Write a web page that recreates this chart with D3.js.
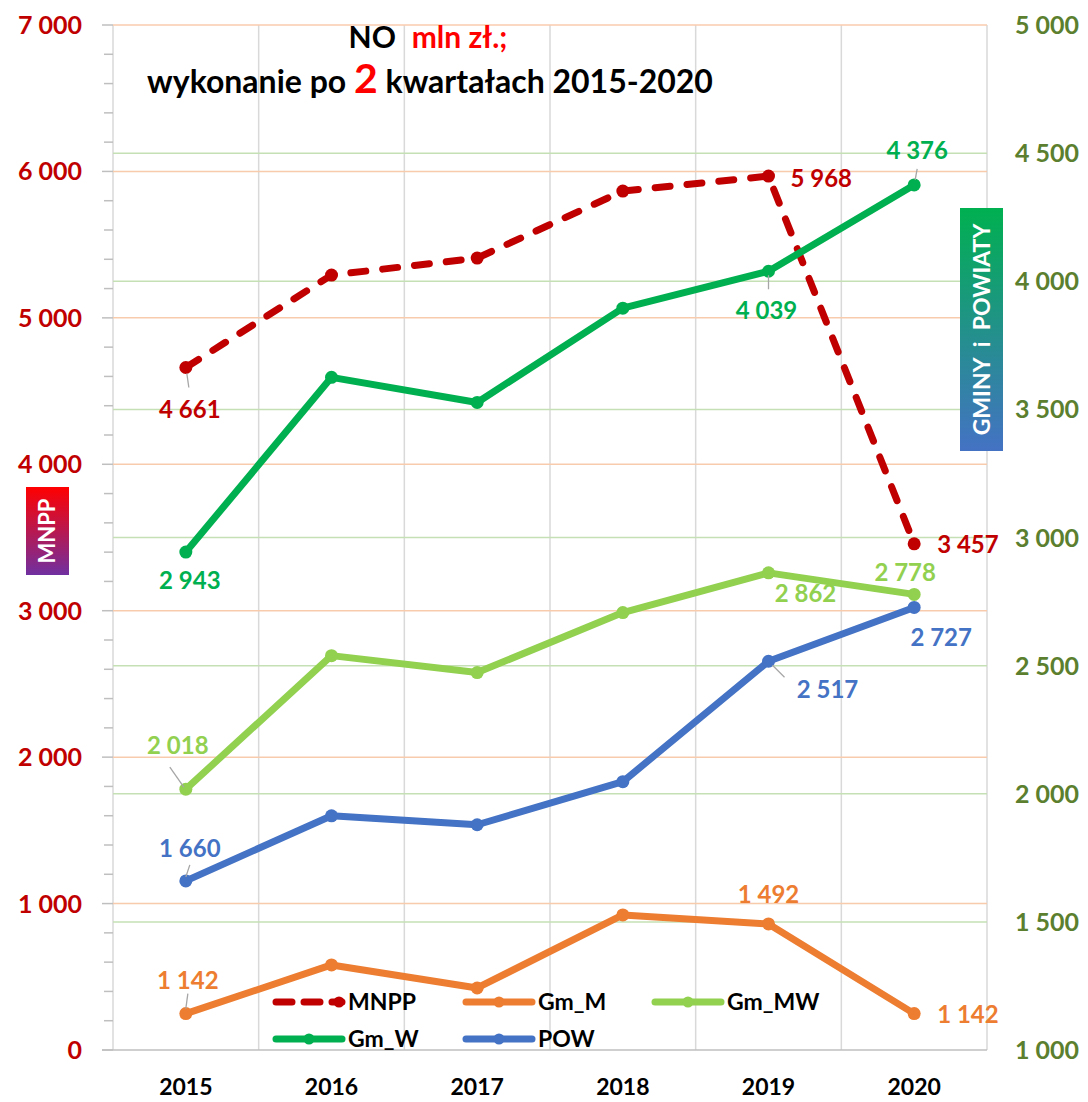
<!DOCTYPE html>
<html>
<head>
<meta charset="utf-8">
<script src="https://cdn.jsdelivr.net/npm/d3@7"></script>
<style>
  body { margin: 0; background: #fff; }
  svg { display: block; font-family: Lato, "Open Sans", sans-serif; }
</style>
</head>
<body>
<svg id="chart" width="1088" height="1102"></svg>
<script>
// --- data ---
const years = ['2015', '2016', '2017', '2018', '2019', '2020'];
const mnpp = [4661, 5292, 5408, 5866, 5968, 3457];   // left axis
const gmM  = [1142, 1332, 1242, 1527, 1492, 1142];   // right axis
const gmMW = [2018, 2539, 2473, 2707, 2862, 2778];
const gmW  = [2943, 3625, 3527, 3895, 4039, 4376];
const pow  = [1660, 1914, 1879, 2047, 2517, 2727];
const leftTicks  = [0, 1000, 2000, 3000, 4000, 5000, 6000, 7000];
const rightTicks = [1000, 1500, 2000, 2500, 3000, 3500, 4000, 4500, 5000];
const labelled = [0, 4, 5]; // which years carry a value label

const series = [
  { name: 'MNPP',  values: mnpp, axis: 'left',  color: '#C00000', dash: '15,17' },
  { name: 'Gm_M',  values: gmM,  axis: 'right', color: '#ED7D31' },
  { name: 'Gm_MW', values: gmMW, axis: 'right', color: '#92D050' },
  { name: 'Gm_W',  values: gmW,  axis: 'right', color: '#00B050' },
  { name: 'POW',   values: pow,  axis: 'right', color: '#4472C4' }
];

// label placement per series/year: [dx, dy, anchor, leader line]
const labelPlace = {
  MNPP:  { 0: [4, 42, 'middle', [1, 6, 3, 20]], 4: [22, 2, 'start'], 5: [23, 1, 'start'] },
  Gm_M:  { 0: [2, -33, 'middle', [0, -5, 2, -20]], 4: [0, -30, 'middle'], 5: [23, 1, 'start'] },
  Gm_MW: { 0: [-8, -44, 'middle', [-2, -2, -16, -22]], 4: [37, 20, 'middle'], 5: [-9, -22, 'middle'] },
  Gm_W:  { 0: [4, 28, 'middle'], 4: [-2, 39, 'middle', [0, 4, 0, 18]], 5: [3, -35, 'middle', [1, -5, 3, -16]] },
  POW:   { 0: [4, -33, 'middle', [0, -4, 4, -16]], 4: [59, 28, 'middle', [4, 4, 16, 16]], 5: [27, 30, 'middle'] }
};

const fmt = v => d3.format(',')(v).replace(/,/g, ' ');

const svg = d3.select('#chart');
const plot = { left: 113, right: 987, top: 25, bottom: 1050 };

const x = d3.scaleBand().domain(years).range([plot.left, plot.right]);
const yL = d3.scaleLinear().domain([0, 7000]).range([plot.bottom, plot.top]);
const yR = d3.scaleLinear().domain([1000, 5000]).range([plot.bottom, plot.top]);

// gradients for the axis title boxes
const defs = svg.append('defs');
function grad(id, c1, c2) {
  const g = defs.append('linearGradient').attr('id', id)
    .attr('x1', 0).attr('y1', 0).attr('x2', 0).attr('y2', 1);
  g.append('stop').attr('offset', '0%').attr('stop-color', c1);
  g.append('stop').attr('offset', '100%').attr('stop-color', c2);
}
grad('gL', '#FF0000', '#7030A0');
grad('gR', '#00B050', '#4472C4');

// vertical grid lines at category boundaries
const bounds = years.map(y => x(y)).concat([plot.right]);
svg.append('g').selectAll('line').data(bounds).join('line')
  .attr('x1', d => d).attr('x2', d => d)
  .attr('y1', plot.top).attr('y2', plot.bottom)
  .attr('stroke', '#D9D9D9').attr('stroke-width', 1.5);

// green grid (right axis)
svg.append('g').selectAll('line').data(rightTicks.filter(t => t > 1000 && t < 5000)).join('line')
  .attr('x1', plot.left).attr('x2', plot.right)
  .attr('y1', d => yR(d)).attr('y2', d => yR(d))
  .attr('stroke', '#C5E0B4').attr('stroke-width', 1.5);

// orange grid (left axis)
svg.append('g').selectAll('line').data(leftTicks.filter(t => t > 0)).join('line')
  .attr('x1', plot.left).attr('x2', plot.right)
  .attr('y1', d => yL(d)).attr('y2', d => yL(d))
  .attr('stroke', '#F8CBAD').attr('stroke-width', 1.5);

// left axis with minor ticks
const minor = d3.range(0, 7001, 200);
svg.append('g').selectAll('line').data(minor).join('line')
  .attr('x1', d => d % 1000 === 0 ? plot.left - 11 : plot.left - 9).attr('x2', plot.left)
  .attr('y1', d => yL(d)).attr('y2', d => yL(d))
  .attr('stroke', '#BFBFBF').attr('stroke-width', 1.5);

svg.append('g').selectAll('text').data(leftTicks).join('text')
  .attr('x', 82).attr('y', d => yL(d)).attr('dy', '0.36em')
  .attr('text-anchor', 'end')
  .attr('fill', '#C00000').attr('font-weight', 700).attr('font-size', 25)
  .text(fmt);

svg.append('g').selectAll('text').data(rightTicks).join('text')
  .attr('x', 1015).attr('y', d => yR(d)).attr('dy', '0.36em')
  .attr('text-anchor', 'start')
  .attr('fill', '#5B7F2E').attr('font-weight', 700).attr('font-size', 25)
  .text(fmt);

// bottom axis
svg.append('line')
  .attr('x1', plot.left - 11).attr('x2', plot.right)
  .attr('y1', plot.bottom).attr('y2', plot.bottom)
  .attr('stroke', '#BFBFBF').attr('stroke-width', 1.5);

svg.append('g').selectAll('text').data(years).join('text')
  .attr('x', d => x(d) + x.bandwidth() / 2).attr('y', 1087).attr('dy', '0.36em')
  .attr('text-anchor', 'middle')
  .attr('font-weight', 700).attr('font-size', 23).attr('fill', '#000')
  .text(d => d);

// series lines
const scaleOf = s => s.axis === 'left' ? yL : yR;
const lineGen = yScale => d3.line()
  .x((d, i) => x(years[i]) + x.bandwidth() / 2)
  .y(d => yScale(d));

series.forEach(s => {
  const ys = scaleOf(s);
  const g = svg.append('g');
  g.append('path').datum(s.values)
    .attr('d', lineGen(ys))
    .attr('fill', 'none').attr('stroke', s.color).attr('stroke-width', 7)
    .attr('stroke-linejoin', 'round').attr('stroke-linecap', 'round')
    .attr('stroke-dasharray', s.dash || null);
  g.selectAll('circle').data(s.values).join('circle')
    .attr('cx', (d, i) => x(years[i]) + x.bandwidth() / 2)
    .attr('cy', d => ys(d))
    .attr('r', 6.5).attr('fill', s.color);
});

// value labels
series.forEach(s => {
  const ys = scaleOf(s);
  labelled.forEach(i => {
    const [dx, dy, anchor, lead] = labelPlace[s.name][i];
    const px = x(years[i]) + x.bandwidth() / 2, py = ys(s.values[i]);
    if (lead) {
      svg.append('line')
        .attr('x1', px + lead[0]).attr('y1', py + lead[1])
        .attr('x2', px + lead[2]).attr('y2', py + lead[3])
        .attr('stroke', '#A6A6A6').attr('stroke-width', 1.3);
    }
    svg.append('text')
      .attr('x', px + dx).attr('y', py + dy).attr('dy', '0.36em')
      .attr('text-anchor', anchor)
      .attr('fill', s.color).attr('font-weight', 700).attr('font-size', 24)
      .text(fmt(s.values[i]));
  });
});

// title
const t1 = svg.append('text').attr('x', 428).attr('y', 48)
  .attr('text-anchor', 'middle').attr('font-weight', 700).attr('font-size', 30);
t1.append('tspan').attr('fill', '#000').text('NO');
t1.append('tspan').attr('fill', '#FF0000').attr('dx', 16).text('mln zł.;');

const t2 = svg.append('text').attr('x', 430).attr('y', 93)
  .attr('text-anchor', 'middle').attr('font-weight', 700).attr('font-size', 32);
t2.append('tspan').attr('fill', '#000').text('wykonanie po ');
t2.append('tspan').attr('fill', '#FF0000').attr('font-size', 41).text('2');
t2.append('tspan').attr('fill', '#000').text(' kwartałach 2015-2020');

// axis title boxes
function axisBox(x0, y0, w, h, fill, label, size) {
  svg.append('rect').attr('x', x0).attr('y', y0).attr('width', w).attr('height', h).attr('fill', fill);
  svg.append('text')
    .attr('transform', `translate(${x0 + w / 2},${y0 + h / 2}) rotate(-90)`)
    .attr('text-anchor', 'middle').attr('dy', '0.36em')
    .attr('fill', '#fff').attr('font-weight', 700).attr('font-size', size)
    .attr('xml:space', 'preserve')
    .text(label);
}
axisBox(26, 487, 43, 88, 'url(#gL)', 'MNPP', 22);
axisBox(960, 208, 43, 243, 'url(#gR)', 'GMINY  i  POWIATY', 23);

// legend
const legendPos = [
  { name: 'MNPP',  x: 273, y: 1002 },
  { name: 'Gm_M',  x: 463, y: 1002 },
  { name: 'Gm_MW', x: 652, y: 1002 },
  { name: 'Gm_W',  x: 273, y: 1039 },
  { name: 'POW',   x: 463, y: 1039 }
];
legendPos.forEach(p => {
  const s = series.find(d => d.name === p.name);
  const g = svg.append('g').attr('transform', `translate(${p.x},${p.y})`);
  g.append('line').attr('x1', 3).attr('x2', 69).attr('y1', 0).attr('y2', 0)
    .attr('stroke', s.color).attr('stroke-width', 7).attr('stroke-linecap', 'round')
    .attr('stroke-dasharray', s.dash ? '16,12' : null);
  g.append('circle').attr('cx', s.dash ? 66 : 36).attr('cy', 0).attr('r', 5.5).attr('fill', s.color);
  g.append('text').attr('x', 75).attr('y', 0).attr('dy', '0.36em')
    .attr('font-weight', 700).attr('font-size', 23).attr('fill', '#000')
    .text(s.name);
});
</script>
</body>
</html>
